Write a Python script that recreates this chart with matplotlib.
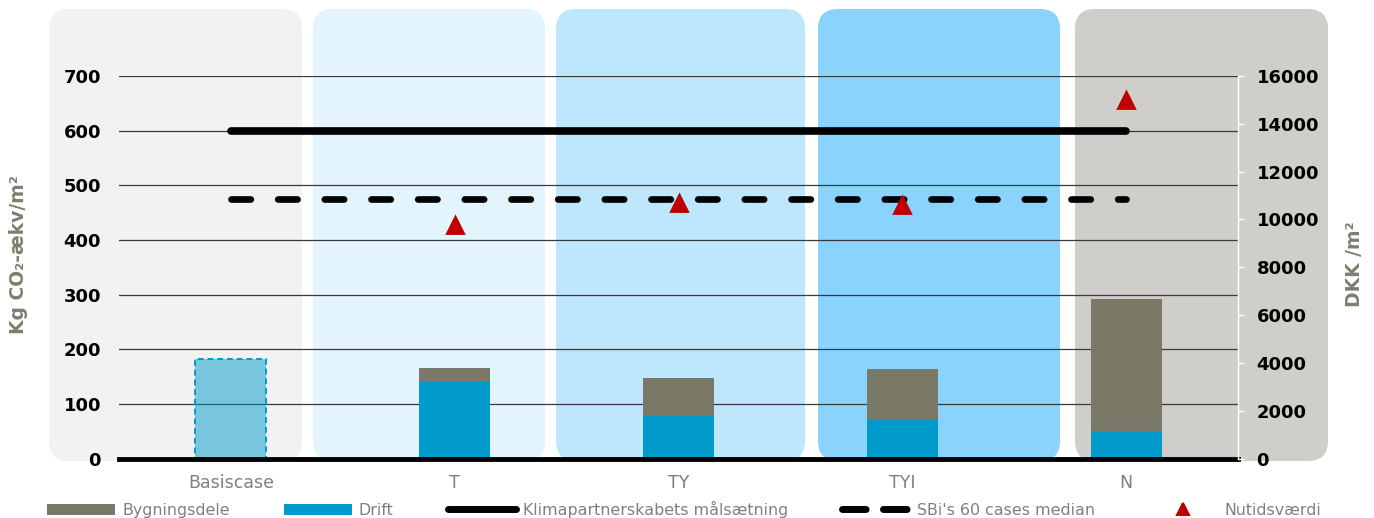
import matplotlib.pyplot as plt
from matplotlib.patches import FancyBboxPatch, Patch
from matplotlib.lines import Line2D
from matplotlib.transforms import Affine2D

# Scenarier og resultater
cases = ['Basiscase', 'T', 'TY', 'TYI', 'N']
drift = [0, 140, 77, 71, 50]
bygningsdele = [0, 26, 71, 92, 241]
basiscase_total = 183
klimapartnerskab = 600
sbi_median = 475
nutidsvaerdi = [None, 9750, 10700, 10600, 15000]

col_byg = '#7A7866'
col_drift = '#009BCB'
col_red = '#C00000'
col_grey = '#7F7F7F'
col_label = '#7F7F70'

W, H = 1374, 518
fig = plt.figure(figsize=(W / 100, H / 100), dpi=100)
fig.patch.set_facecolor('white')

# baggrundspaneler bag hver kategori (pixel-koordinater, y fra toppen)
px = Affine2D().scale(1 / W, 1 / H) + fig.transFigure
panels = [(49, 302, '#F2F2F2'), (313, 545, '#E4F4FD'), (556, 805, '#BEE6FD'),
          (818, 1060, '#89D3FD'), (1075, 1328, '#D0CECA')]
for x0, x1, c in panels:
    p = FancyBboxPatch((x0, H - 461), x1 - x0, 461 - 9,
                       boxstyle='round,pad=0,rounding_size=20',
                       facecolor=c, edgecolor='none', transform=px, zorder=-5)
    fig.add_artist(p)

ax = fig.add_axes([119 / W, (H - 458.5) / H, (1238 - 119) / W, (458.5 - 76) / H])
ax.patch.set_visible(False)
x = list(range(len(cases)))
bw = 0.317

# stablede søjler
ax.bar(x[1:], drift[1:], bw, color=col_drift, zorder=2)
ax.bar(x[1:], bygningsdele[1:], bw, bottom=drift[1:], color=col_byg, zorder=2)
ax.bar(x[0], basiscase_total, bw, facecolor=(0, 0.608, 0.796, 0.5),
       edgecolor=col_drift, linestyle=(0, (3, 2)), linewidth=1.4, zorder=2)

ax.plot([0, 4], [klimapartnerskab] * 2, color='black', lw=5.5,
        solid_capstyle='round', zorder=3)
ax.plot([0, 4], [sbi_median] * 2, color='black', lw=4.8,
        linestyle=(0, (2.9, 4.1)), dash_capstyle='round', zorder=3)

ax.set_xlim(-0.5, 4.5)
ax.set_ylim(0, 700)
ax.set_yticks(range(0, 701, 100))
ax.set_axisbelow(True)
ax.yaxis.grid(True, color='#3A3A3A', linewidth=0.9)
for s in ['top', 'left', 'right']:
    ax.spines[s].set_visible(False)
ax.spines['bottom'].set_linewidth(3.5)
ax.spines['bottom'].set_zorder(4)
ax.set_xticks(x)
ax.set_xticklabels(cases, color=col_grey, fontsize=12.5)
ax.tick_params(axis='x', length=0, pad=11)
ax.tick_params(axis='y', length=0, pad=13, labelsize=13)
for t in ax.get_yticklabels():
    t.set_fontweight('bold')

# højre akse: nutidsværdi
ax2 = ax.twinx()
ax2.set_ylim(0, 16000)
ax2.set_yticks(range(0, 16001, 2000))
xs = [i for i, v in enumerate(nutidsvaerdi) if v is not None]
vs = [v for v in nutidsvaerdi if v is not None]
ax2.plot(xs, vs, linestyle='none', marker='^', markersize=12, color=col_red,
         markeredgewidth=2, markeredgecolor=col_red, zorder=5)
for s in ['top', 'left', 'bottom']:
    ax2.spines[s].set_visible(False)
ax2.spines['right'].set_color('white')
ax2.spines['right'].set_linewidth(1)
ax2.tick_params(axis='y', colors='white', length=4.3, width=1, pad=9,
                labelsize=13, labelcolor='black')
for t in ax2.get_yticklabels():
    t.set_fontweight('bold')

fig.text(19 / W, 1 - 255 / H, 'Kg CO₂-ækv/m²', rotation=90, ha='center',
         va='center', fontsize=13.5, fontweight='bold', color=col_label)
fig.text(1355 / W, 1 - 264 / H, 'DKK /m²', rotation=90, ha='center',
         va='center', fontsize=13.5, fontweight='bold', color=col_label)

handles = [
    Patch(facecolor=col_byg, edgecolor='none'),
    Patch(facecolor=col_drift, edgecolor='none'),
    Line2D([], [], color='black', lw=5, solid_capstyle='round'),
    Line2D([], [], color='black', lw=5, linestyle=(0, (3.4, 2.5)),
           dash_capstyle='round'),
    Line2D([], [], color=col_red, marker='^', linestyle='none', markersize=9,
           markeredgewidth=1.5),
]
labels = ['Bygningsdele', 'Drift', 'Klimapartnerskabets målsætning',
          "SBi's 60 cases median", 'Nutidsværdi']
leg = fig.legend(handles, labels, loc='lower left', ncol=5, mode='expand',
                 bbox_to_anchor=(47 / W, 0, (1321 - 47) / W, 18 / H),
                 frameon=False, borderaxespad=0, borderpad=0, fontsize=11.4,
                 handlelength=4.3, handleheight=0.7, handletextpad=0.45,
                 labelcolor=col_grey)

fig.savefig('out.png', dpi=100)
